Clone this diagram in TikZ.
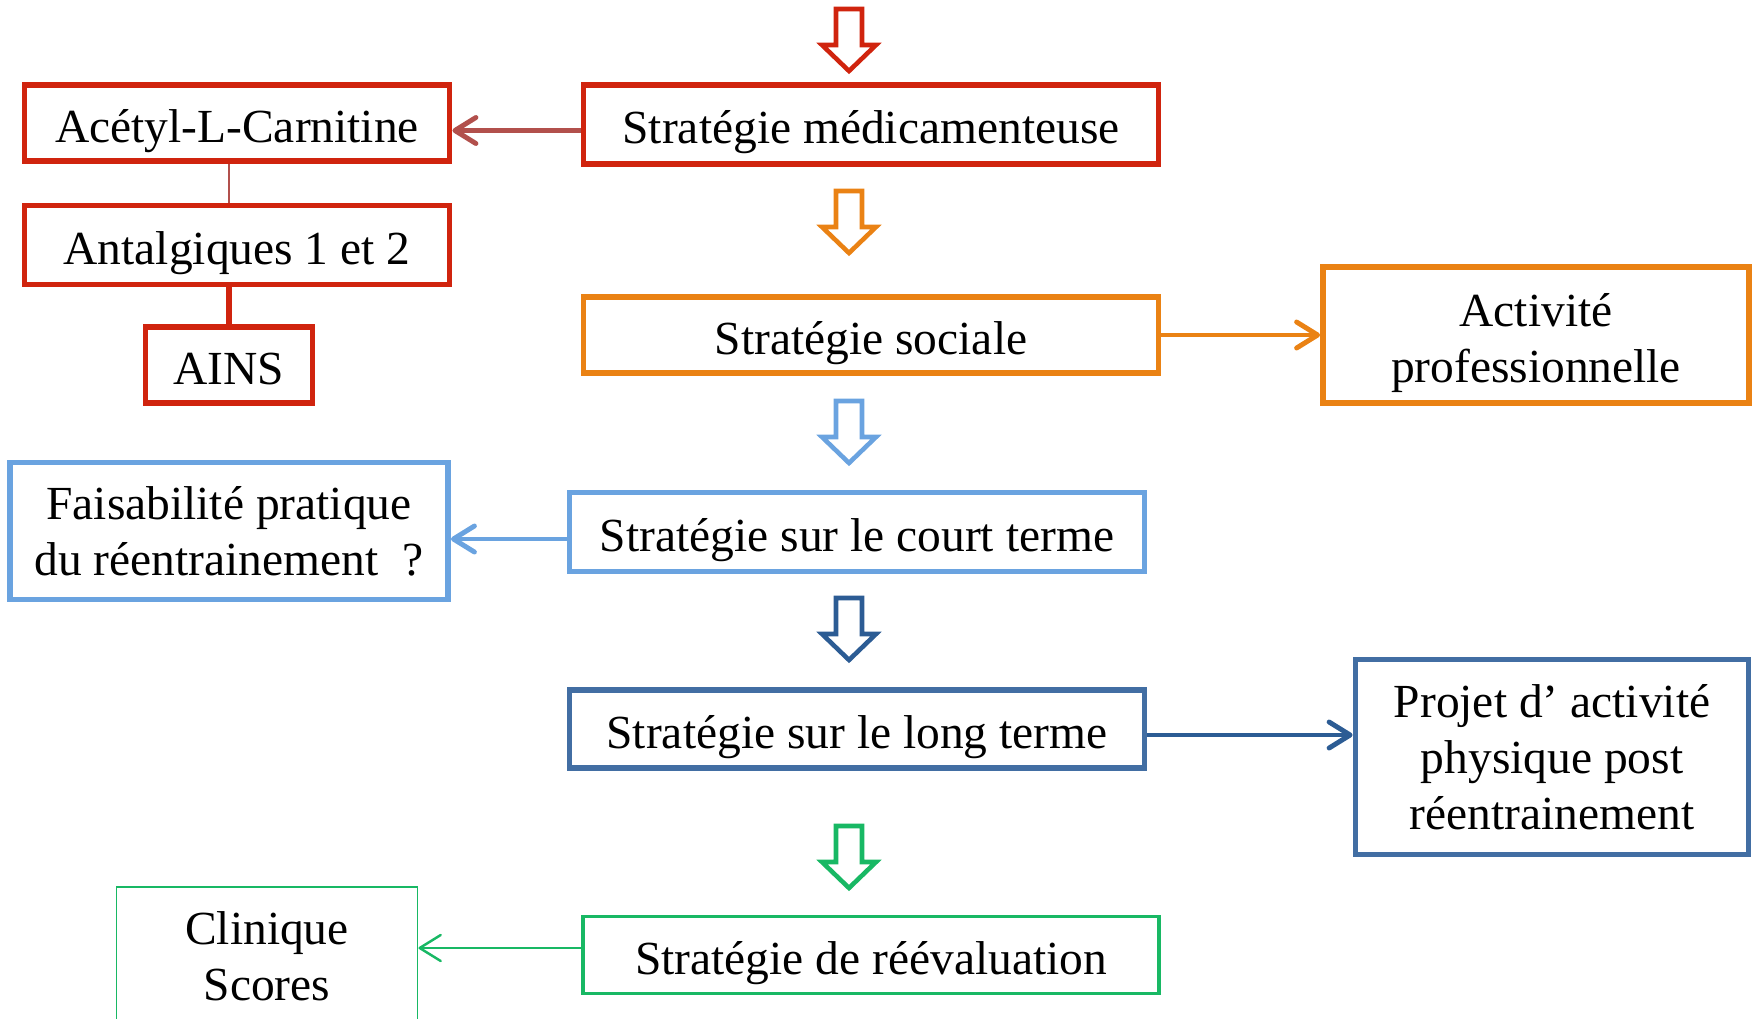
\documentclass[tikz,border=0pt]{standalone}
\usepackage{fontspec}
\setmainfont{Liberation Serif}
\usetikzlibrary{arrows.meta}

\definecolor{medred}{RGB}{208,36,14}
\definecolor{linkred}{RGB}{178,80,76}
\definecolor{socorange}{RGB}{234,130,20}
\definecolor{shortblue}{RGB}{106,163,224}
\definecolor{longblue}{RGB}{66,110,163}
\definecolor{deepblue}{RGB}{44,92,148}
\definecolor{evalgreen}{RGB}{24,184,100}

\begin{document}
\begin{tikzpicture}[x=0.01cm, y=-0.01cm, >={Straight Barb[length=0.21cm,width=0.26cm,round]},
	box/.style={draw, line width=1.6pt, align=center, inner sep=0pt,
		font=\fontsize{13.5}{16}\selectfont},
	oneline/.style={box, text height=0.48cm, text depth=0.1cm},
	link/.style={->, line width=1.4pt},
	downarrow/.pic={
		\draw[line width=1.3pt, fill=white, line join=miter]
		(-13,0) -- (13,0) -- (13,36) -- (27,36) -- (0,62) -- (-27,36) -- (-13,36) -- cycle;
	}]

	\useasboundingbox (0,0) rectangle (1758,1018);
	\clip (0,0) rectangle (1758,1018);

	\def\mx{849} % column of the hollow arrows

	% hollow arrows
	\pic[color=medred] at (\mx,9) {downarrow};
	\pic[color=socorange] at (\mx,191) {downarrow};
	\pic[color=shortblue] at (\mx,401) {downarrow};
	\pic[color=deepblue] at (\mx,598) {downarrow};
	\pic[color=evalgreen] at (\mx,826) {downarrow};

	% main strategies
	\node[oneline, draw=medred, minimum width=5.75cm, minimum height=0.79cm] (med) at (871,124.5) {Stratégie médicamenteuse};
	\node[oneline, draw=socorange, minimum width=5.75cm, minimum height=0.76cm] (soc) at (871,335) {Stratégie sociale};
	\node[oneline, draw=shortblue, minimum width=5.75cm, minimum height=0.79cm] (court) at (857,532) {Stratégie sur le court terme};
	\node[oneline, draw=longblue, minimum width=5.75cm, minimum height=0.78cm] (long) at (857,729) {Stratégie sur le long terme};
	\node[oneline, draw=evalgreen, line width=1.1pt, minimum width=5.75cm, minimum height=0.77cm] (reeval) at (871,955) {Stratégie de réévaluation};

	% drugs
	\node[oneline, draw=medred, minimum width=4.25cm, minimum height=0.76cm] (acetyl) at (237,123) {Acétyl-L-Carnitine};
	\node[oneline, draw=medred, minimum width=4.25cm, minimum height=0.79cm] (antalg) at (237,245) {Antalgiques 1 et 2};
	\node[oneline, draw=medred, minimum width=1.67cm, minimum height=0.76cm] (ains) at (229,365) {AINS};

	% side boxes
	\node[box, draw=socorange, text height=1.05cm, minimum width=4.26cm, minimum height=1.36cm] (activ) at (1536,335) {Activité\\professionnelle};
	\node[box, draw=shortblue, minimum width=4.38cm, minimum height=1.37cm] (faisab) at (229,531) {Faisabilité pratique\\du réentrainement~~?};
	\node[box, draw=longblue, minimum width=3.93cm, minimum height=1.95cm] (projet) at (1552,757) {Projet d’\ activité\\physique post\\réentrainement};
	\node[box, draw=evalgreen, line width=0.5pt, minimum width=3.01cm, minimum height=1.38cm] (clin) at (267,956) {Clinique\\Scores};

	% links
	\draw[link, linkred] ([yshift=-0.06cm]med.west) -- ([yshift=-0.06cm]med.west -| acetyl.east);
	\draw[linkred, line width=0.85pt] (acetyl.south -| ains) -- (antalg.north -| ains);
	\draw[medred, line width=1.5pt] (antalg.south -| ains) -- (ains.north);
	\draw[link, socorange] (soc.east) -- (soc.east -| activ.west);
	\draw[link, shortblue] ([yshift=-0.07cm]court.west) -- ([yshift=-0.07cm]court.west -| faisab.east);
	\draw[link, deepblue] ([yshift=-0.06cm]long.east) -- ([yshift=-0.06cm]long.east -| projet.west);
	\draw[link, evalgreen, line width=0.7pt] ([yshift=0.07cm]reeval.west) -- ([yshift=0.07cm]reeval.west -| clin.east);

\end{tikzpicture}
\end{document}
